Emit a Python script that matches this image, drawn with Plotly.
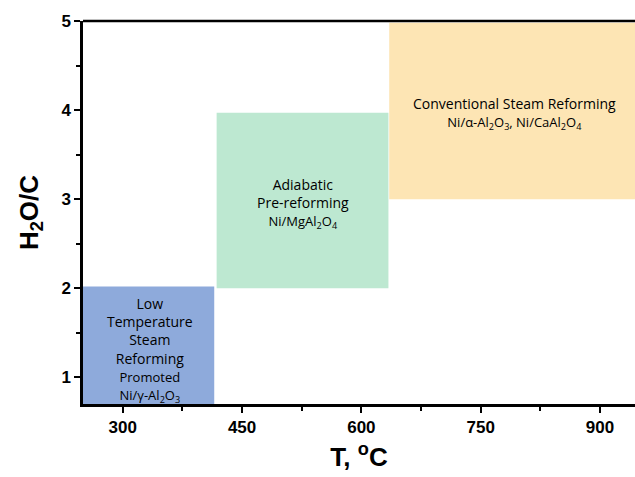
import plotly.graph_objects as go

# Regions: name lines, x range (T, °C), y range (H2O/C)
region_labels = [
    "Low<br>Temperature<br>Steam<br>Reforming<br><span style='font-size:13px'>Promoted<br>Ni/γ-Al<sub>2</sub>O<sub>3</sub></span>",
    "Adiabatic<br>Pre-reforming<br><span style='font-size:13px'>Ni/MgAl<sub>2</sub>O<sub>4</sub></span>",
    "Conventional Steam Reforming<br><span style='font-size:13px'>Ni/α-Al<sub>2</sub>O<sub>3</sub>, Ni/CaAl<sub>2</sub>O<sub>4</sub></span>",
]
x_start = [250, 418, 635]
x_end = [415, 634, 950]
y_start = [0.7, 2.0, 3.0]
y_end = [2.02, 3.97, 4.98]
label_x = [334, 526, 792]
label_y = [1.31, 2.95, 3.96]
colors = ["#8eaadb", "#bde8d1", "#fde5b4"]

x_ticks = [300, 450, 600, 750, 900]
x_minor = [375, 525, 675, 825]
y_ticks = [1, 2, 3, 4, 5]
y_minor = [1.5, 2.5, 3.5, 4.5]

fig = go.Figure()
fig.add_trace(go.Scatter(x=[None], y=[None], showlegend=False, hoverinfo="skip"))

for i in range(len(region_labels)):
    fig.add_shape(type="rect", xref="x", yref="y",
                  x0=x_start[i], x1=x_end[i], y0=y_start[i], y1=y_end[i],
                  fillcolor=colors[i], line=dict(width=0), layer="below")
    fig.add_annotation(x=label_x[i], y=label_y[i], xref="x", yref="y",
                       text=region_labels[i], showarrow=False,
                       font=dict(family="Open Sans, Lato, sans-serif", size=14, color="#000000"),
                       align="center")

title_font = dict(family="Liberation Sans, Arial, sans-serif", size=26, color="black", weight="bold")
axis_common = dict(
    showgrid=False, zeroline=False, showline=True, linecolor="black", linewidth=2.5,
    ticks="outside", ticklen=6, tickwidth=2, tickcolor="black", automargin=False,
    tickfont=dict(family="Liberation Sans, Arial, sans-serif", size=17, color="black", weight="bold"),
)

fig.update_xaxes(range=[250, 944], tickvals=x_ticks,
                 minor=dict(tickvals=x_minor, ticks="outside", ticklen=4, tickwidth=2, tickcolor="black"),
                 title=dict(text="T, <sup>o</sup>C", standoff=12, font=title_font),
                 **axis_common)
fig.update_yaxes(range=[0.7, 5], tickvals=y_ticks,
                 minor=dict(tickvals=y_minor, ticks="outside", ticklen=4, tickwidth=2, tickcolor="black"),
                 title=dict(text="H<sub>2</sub>O/C", standoff=16, font=title_font),
                 **axis_common)

# top frame line
fig.add_shape(type="line", xref="paper", yref="paper", x0=0, x1=1, y0=1, y1=1,
              line=dict(color="black", width=2.5))

fig.update_layout(
    width=635, height=477,
    margin=dict(l=83, r=0, t=21, b=73),
    plot_bgcolor="white", paper_bgcolor="white",
    showlegend=False,
)

fig.write_html("out.html", config={"displayModeBar": False},
               post_script="document.body.style.margin='0';")
